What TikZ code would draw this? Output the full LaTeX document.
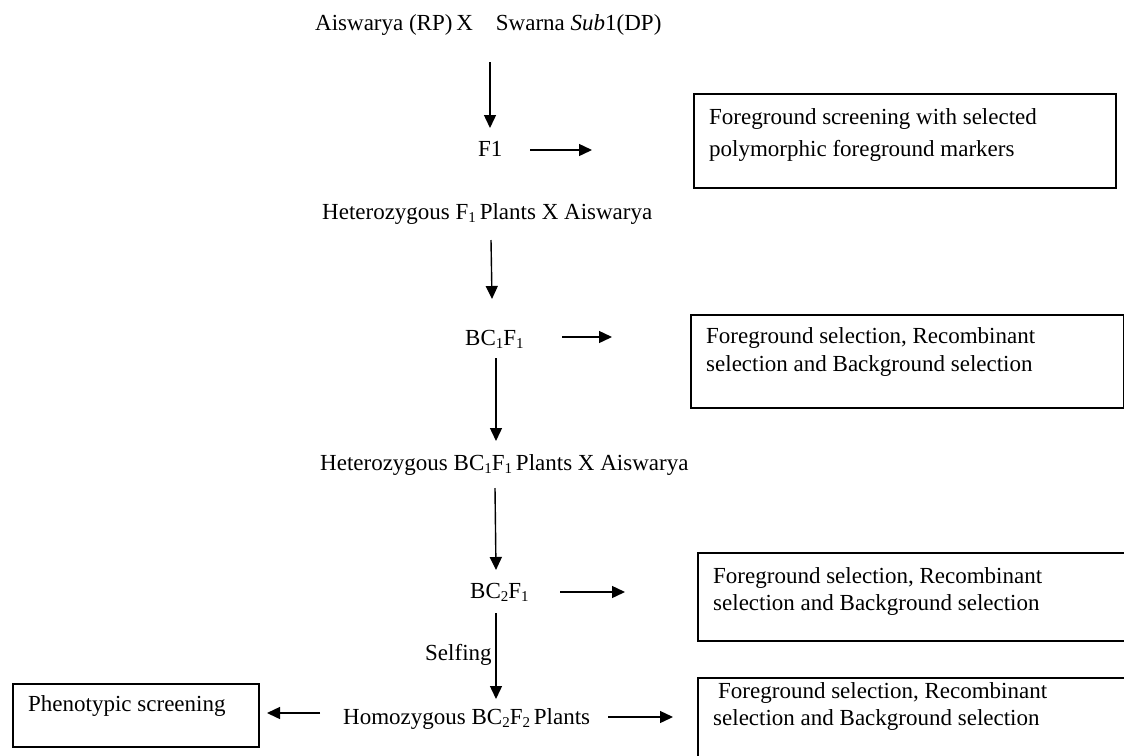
\documentclass[tikz,border=0pt]{standalone}
\usepackage{fontspec}
\setmainfont{Liberation Serif}
\usetikzlibrary{arrows.meta}
\newcommand\lsub[1]{\raisebox{-0.3ex}{\fontsize{15}{15}\selectfont #1}}
\begin{document}
\begin{tikzpicture}[x=1pt,y=-1pt,
  txt/.style={anchor=base west, inner sep=0pt, font=\fontsize{23}{28}\selectfont},
  frame/.style={draw, line width=1.5pt, anchor=north west, inner sep=0pt},
  arr/.style={-{Triangle[length=13pt,width=12pt]}, line width=1.4pt}]
\useasboundingbox (0,0) rectangle (1124,755);

% main column texts
\node[txt] (p0) at (315,30) {Aiswarya (RP)\,X\quad Swarna \textit{Sub}1(DP)};
\node[txt] (f1) at (478,156) {F1};
\node[txt] (hf1) at (322,219) {Heterozygous F\lsub{1}\,Plants X Aiswarya};
\node[txt] (bc1) at (465,345) {BC\lsub{1}F\lsub{1}};
\node[txt] (hbc1) at (320,470) {Heterozygous BC\lsub{1}F\lsub{1}\,Plants X Aiswarya};
\node[txt] (bc2) at (470,598) {BC\lsub{2}F\lsub{1}};
\node[txt] (self) at (425,660) {Selfing};
\node[txt] (hom) at (343,724) {Homozygous BC\lsub{2}F\lsub{2}\,Plants};

% boxes
\node[frame, minimum width=422pt, minimum height=94pt] (b1) at (693,93) {};
\node[txt] (b1a) at (709,124) {Foreground screening with selected};
\node[txt] (b1b) at (709,156) {polymorphic foreground markers};

\node[frame, minimum width=433pt, minimum height=93pt] (b2) at (690,314) {};
\node[txt] (b2a) at (706,343) {Foreground selection, Recombinant};
\node[txt] (b2b) at (706,371) {selection and Background selection};

\node[frame, minimum width=440pt, minimum height=88pt] (b3) at (697,552) {};
\node[txt] (b3a) at (713,583) {Foreground selection, Recombinant};
\node[txt] (b3b) at (713,610) {selection and Background selection};

\node[frame, minimum width=440pt, minimum height=90pt] (b4) at (697,677) {};
\node[txt] (b4a) at (718,698) {Foreground selection, Recombinant};
\node[txt] (b4b) at (713,725) {selection and Background selection};

\node[frame, minimum width=246pt, minimum height=63pt] (b5) at (12,683) {};
\node[txt] (b5a) at (28,711) {Phenotypic screening};

% arrow end points
\coordinate (a1s) at (490,62);  \coordinate (a1e) at (490,128);
\coordinate (h1s) at (530,150); \coordinate (h1e) at (592,150);
\coordinate (a2s) at (491,240); \coordinate (a2e) at (492,299);
\coordinate (h2s) at (562,337); \coordinate (h2e) at (612,337);
\coordinate (a3s) at (496,358); \coordinate (a3e) at (496,441);
\coordinate (a4s) at (495,488); \coordinate (a4e) at (496,570);
\coordinate (h3s) at (560,592); \coordinate (h3e) at (625,592);
\coordinate (a5s) at (496,613); \coordinate (a5e) at (496,699);
\coordinate (h4s) at (608,717); \coordinate (h4e) at (673,717);
\coordinate (h5s) at (320,713); \coordinate (h5e) at (267,713);

\draw[arr] (a1s) -- (a1e);
\draw[arr] (h1s) -- (h1e);
\draw[arr] (a2s) -- (a2e);
\draw[arr] (h2s) -- (h2e);
\draw[arr] (a3s) -- (a3e);
\draw[arr] (a4s) -- (a4e);
\draw[arr] (h3s) -- (h3e);
\draw[arr] (a5s) -- (a5e);
\draw[arr] (h4s) -- (h4e);
\draw[arr] (h5s) -- (h5e);
\end{tikzpicture}
\end{document}
